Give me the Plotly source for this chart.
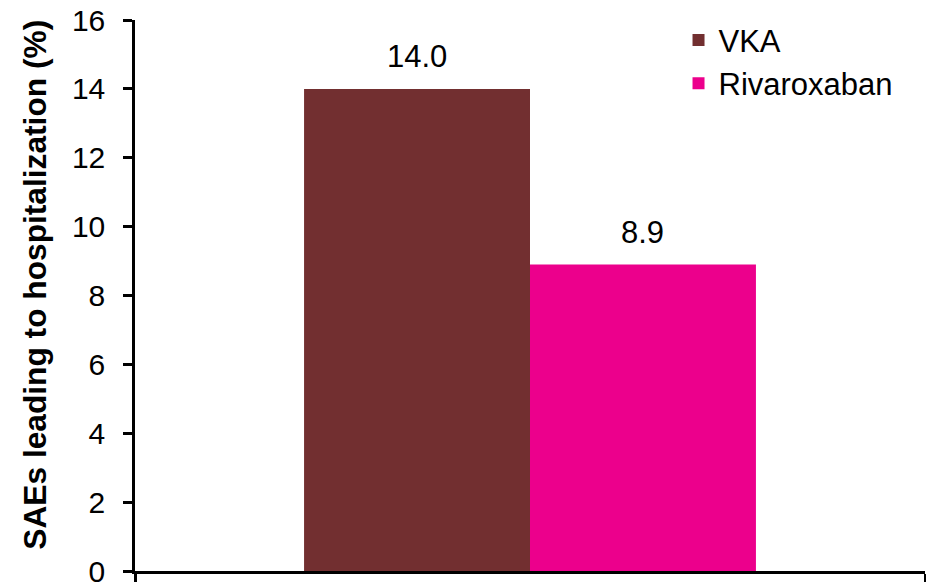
import plotly.graph_objects as go

# Serious adverse events leading to hospitalization, by treatment arm
groups = ["VKA", "Rivaroxaban"]
values = [14.0, 8.9]
colors = ["#722F30", "#EC008C"]
y_ticks = [0, 2, 4, 6, 8, 10, 12, 14, 16]
y_title = "SAEs leading to hospitalization (%)"

FONT = "Liberation Sans, Arial, sans-serif"
BAR_W = 0.286
offsets = [-BAR_W, 0.0]

fig = go.Figure()
for name, val, col, off in zip(groups, values, colors, offsets):
    fig.add_trace(go.Bar(
        name=name,
        x=[0],
        y=[val],
        width=[BAR_W],
        offset=off,
        marker=dict(color=col, line=dict(width=0)),
        hoverinfo="skip",
    ))
    fig.add_annotation(
        x=off + BAR_W / 2, y=val, xref="x", yref="y",
        text=f"{val:.1f}", showarrow=False,
        yanchor="bottom", yshift=13,
        font=dict(family=FONT, size=31, color="#000000"),
    )

# vertical axis title, set slightly above the axis midpoint
fig.add_annotation(
    x=-0.127, y=0.519, xref="paper", yref="paper",
    text=f"<b>{y_title}</b>", showarrow=False, textangle=-90,
    xanchor="center", yanchor="middle",
    font=dict(family=FONT, size=31.7, color="#000000"),
)

fig.update_layout(
    width=926, height=584,
    margin=dict(l=135, r=1, t=20, b=13, autoexpand=False),
    paper_bgcolor="white", plot_bgcolor="white",
    barmode="overlay",
    font=dict(family=FONT, color="#000000"),
    showlegend=True,
    legend=dict(
        x=0.688, y=1.012, xanchor="left", yanchor="top",
        font=dict(family=FONT, size=31, color="#000000"),
        bgcolor="rgba(0,0,0,0)",
        tracegroupgap=0,
        itemwidth=30,
    ),
)

fig.update_xaxes(
    range=[-0.5, 0.5],
    tickvals=[-0.5, 0.5], ticktext=["", ""],
    ticks="outside", ticklen=8, tickwidth=2.5, tickcolor="#000000",
    showline=True, linewidth=2.5, linecolor="#000000",
    showgrid=False, zeroline=False, fixedrange=True,
    automargin=False,
)
fig.update_yaxes(
    range=[0, 16],
    tickvals=y_ticks,
    ticks="outside", ticklen=9, tickwidth=2.5, tickcolor="#000000",
    ticklabelstandoff=12,
    ticklabeloverflow="allow",
    tickfont=dict(family=FONT, size=30, color="#000000"),
    showline=True, linewidth=2.5, linecolor="#000000",
    showgrid=False, zeroline=False, fixedrange=True,
    automargin=False,
)

fig.write_html("out.html", config={"displayModeBar": False})
